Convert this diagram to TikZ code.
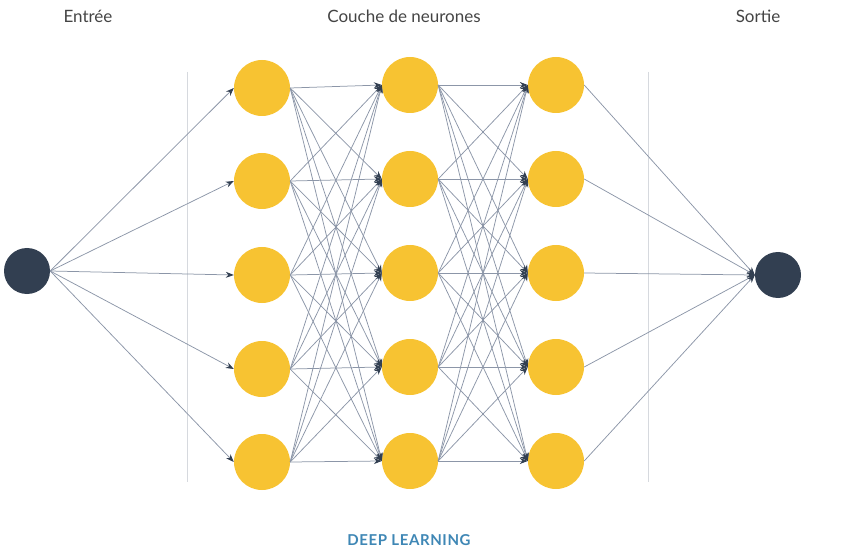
\documentclass[tikz,border=0pt]{standalone}
\usepackage{fontspec}
\setmainfont{Lato}
\usetikzlibrary{arrows.meta}
\definecolor{neuron}{HTML}{F7C332}
\definecolor{darknode}{HTML}{323F51}
\definecolor{edgecol}{HTML}{8C96A8}
\definecolor{titlecol}{HTML}{444444}
\definecolor{dlcol}{HTML}{3F87B5}
\definecolor{divcol}{HTML}{D6D9DE}
\tikzset{
  neuronnode/.style={circle,fill=neuron,minimum size=56pt,inner sep=0pt},
  ionode/.style={circle,fill=darknode,minimum size=46pt,inner sep=0pt},
  edge/.style={draw=edgecol,line width=0.75pt,-{Stealth[length=8pt,width=6pt,color=darknode]}},
  divider/.style={draw=divcol,line width=0.7pt},
  heading/.style={text=titlecol,font=\fontsize{17pt}{19pt}\selectfont},
}
\begin{document}
\begin{tikzpicture}[x=1pt,y=-1pt]
\useasboundingbox (0,0) rectangle (847,559);
\draw[divider] (187,72) -- (187,482);
\draw[divider] (648,72) -- (648,482);
\node[heading] (tin) at (88,16) {Entrée};
\node[heading] (tmid) at (404,16) {Couche de neurones};
\node[heading] (tout) at (758,16) {Sortie};
\node[text=dlcol,font=\bfseries\fontsize{15pt}{17pt}\selectfont\addfontfeature{LetterSpace=4}] (dl) at (409,540) {DEEP LEARNING};
\node[ionode] (in) at (27,271) {};
\node[ionode] (out) at (778,275) {};
\foreach \i/\y in {1/88,2/181,3/275,4/369,5/462} {
  \node[neuronnode] (a\i) at (262,\y) {};
}
\foreach \i/\y in {1/85,2/179,3/273,4/367,5/461} {
  \node[neuronnode] (b\i) at (410,\y) {};
  \node[neuronnode] (c\i) at (556,\y) {};
}
\foreach \i in {1,...,5} {
  \draw[edge] (in.east) -- (a\i.west);
  \draw[edge] (c\i.east) -- (out.west);
  \foreach \j in {1,...,5} {
    \draw[edge] (a\i.east) -- (b\j.west);
    \draw[edge] (b\i.east) -- (c\j.west);
  }
}
\end{tikzpicture}
\end{document}
